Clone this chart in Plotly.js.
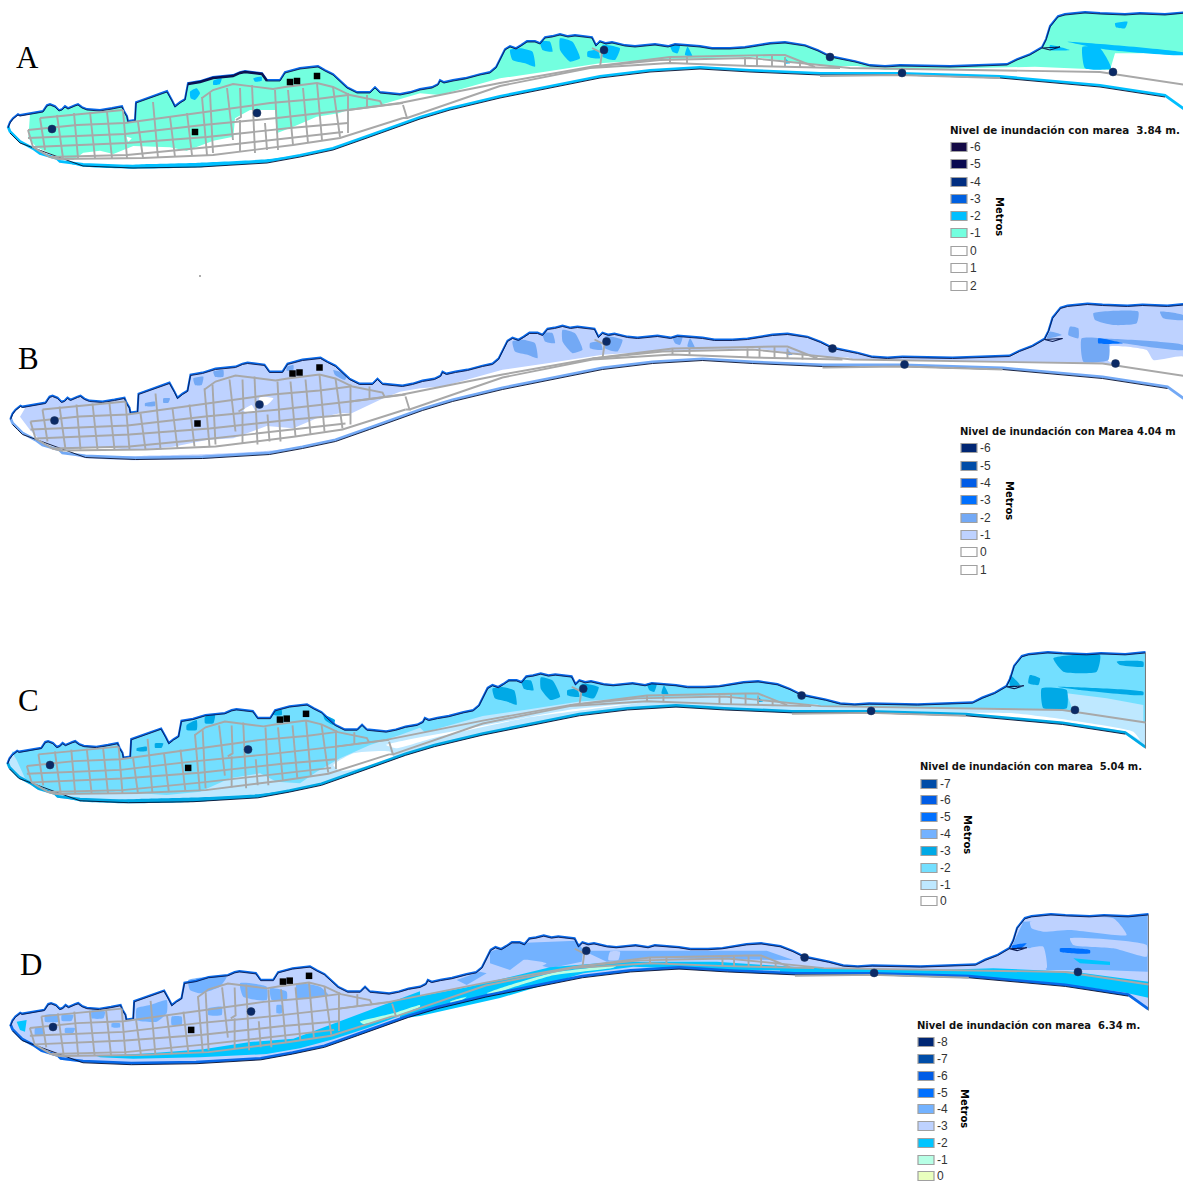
<!DOCTYPE html>
<html><head><meta charset="utf-8">
<script src="https://cdn.plot.ly/plotly-3.0.1.min.js"></script>
<style>html,body{margin:0;padding:0;background:#fff;overflow:hidden}#g{width:1183px;height:1183px}</style>
</head><body><div id="g"></div>
<script>
// ---------- shoreline, read in panel A pixels ----------
const northCoast=[[8,128],[10,123],[13,119],[18,115],[20,116],[30,114],[43,112],[47,106],[50,105],[55,107],[59,111],[62,110],[65,107],[68,109],[72,107],[75,106],[78,105],[82,108],[87,110],[100,111],[112,109],[122,107],[124,112],[127,117],[128,122],[135,121],[136,103],[150,98],[167,92],[172,101],[175,107],[180,103],[185,100],[188,84],[200,82],[213,78],[233,76],[240,73],[245,72],[262,74],[267,81],[280,81],[285,73],[300,69],[318,67],[325,71],[333,75],[347,88],[357,93],[370,93],[375,88],[380,93],[400,95],[410,93],[420,90],[432,88],[438,85],[440,81],[444,83],[453,81],[465,79],[480,75],[490,73],[496,68],[505,50],[510,47],[516,49],[521,46],[527,42],[535,42],[540,44],[545,38],[552,37],[560,35],[568,37],[575,36],[585,37],[592,38],[596,46],[600,42],[606,44],[612,43],[625,46],[635,47],[655,45],[668,47],[675,45],[690,46],[700,47],[712,49],[730,49],[745,48],[760,46],[770,44],[785,43],[805,46],[818,51],[830,57],[855,62],[870,66],[885,67],[900,66],[950,67],[1007,65],[1017,60],[1030,55],[1042,48],[1046,40],[1050,27],[1058,17],[1065,15],[1085,13],[1100,14],[1125,15],[1140,14],[1165,15],[1186,13]];
const southCoast=[[1186,112],[1165,97],[1100,87],[1000,78],[900,75],[820,75],[750,72],[700,69],[650,72],[600,78],[550,88],[500,98],[450,110],[420,119],[367,138],[333,150],[300,157],[267,163],[200,167],[133,168],[83,166],[60,163],[57,160],[40,155],[33,150],[20,143],[15,138],[10,133],[8,128]];
// ---------- streets ----------
const streets=[
[[40,118],[123,110]],
[[28,130],[77,125],[125,123],[170,117],[200,113],[270,103],[317,99],[348,95]],
[[28,138],[125,134],[203,125],[277,118],[348,110],[403,103]],
[[33,147],[127,143],[207,137],[290,128],[348,123]],
[[50,157],[127,155],[210,147],[293,138],[343,132]],
[[58,159],[143,158],[213,155],[293,145],[340,138],[403,118]],
[[28,130],[33,147],[50,157],[58,159]],
[[40,118],[45,150]],[[57,115],[63,158]],[[74,113],[78,158]],[[90,112],[95,158]],[[107,112],[112,158]],[[123,110],[127,158]],
[[138,122],[143,158]],[[153,102],[158,158]],[[170,117],[175,157]],[[187,113],[192,155]],[[202,97],[207,155]],[[210,93],[213,153]],
[[227,88],[233,140]],[[240,88],[241,117],[236,120]],[[240,120],[240,152]],[[252,85],[255,153]],[[265,123],[267,150]],[[275,90],[278,150]],
[[288,90],[293,145]],[[303,88],[308,143]],[[317,83],[322,140]],[[333,87],[340,137]],[[348,93],[348,133]],[[367,95],[367,107]],
[[202,98],[213,90],[233,84],[273,89],[285,87],[317,83],[333,87],[350,95],[380,101],[382,105]],
[[403,105],[407,118],[403,118]],
[[348,110],[400,103],[500,83],[590,67],[660,60],[750,58],[850,68],[1100,72],[1186,85]],
[[407,118],[500,86],[590,68],[670,63],[750,66],[840,68]],
[[590,67],[670,57],[772,55],[785,55],[815,67]],
[[745,57],[745,66]],[[757,56],[757,66]],[[772,55],[772,67]],[[785,57],[785,67]],[[670,57],[670,63]],[[687,57],[687,63]],[[800,62],[800,68]],[[592,48],[602,53],[600,67]],
[[820,76],[900,75],[1000,78]]
];
const gaugeDots=[[52,129],[257,113],[604,50],[830,57],[902,73],[1113,72]];
const buildings=[[195,132],[290,82],[297,81],[317,76]];
// ---------- crop frames used to read the flood zones: [left, top, x-zoom, y-zoom] ----------
const A1=[0,60,3,3],A2=[400,10,2,3],B1=[0,350,3,3],C1=[0,695,3,3],D1=[0,950,3,3],B3=[780,295,3,3],C3=[780,645,3,3],D3=[780,905,3,3],D2=[400,930,3,3];
// ---------- flood zone edges ----------
const cityEdgeA=[[85,235],[110,262],[160,285],[220,300],[250,278],[300,272],[340,282],[400,258],[510,262],[560,272],[640,242],[700,230],[705,175],[750,150],[825,150],[830,220],[880,200],[950,170],[1015,160],[1045,150],[1140,135],[1260,100]];
const midEdgeA=[[80,255],[200,205],[290,185],[400,160],[500,150],[700,140],[860,168]];
const headEdgeA=[[1568,130],[1430,130],[1420,180],[1340,175],[1270,170],[1215,172]];
const cityEdgeB=[[75,175],[60,200],[90,240],[130,280],[200,300],[290,290],[400,300],[520,290],[620,270],[700,265],[800,228],[880,235],[950,205],[1020,190],[1055,190],[1150,145],[1200,125],[1260,115]];
const cityEdgeC=[[35,170],[50,195],[75,250],[130,285],[240,298],[350,290],[500,300],[600,290],[690,250],[780,235],[830,260],[900,265],[950,230],[1020,190],[1110,150],[1200,120],[1260,98]];
// ---------- patches ----------
const midPatches=[[[220,120],[240,115],[265,125],[270,170],[250,160],[225,150]],[[280,95],[300,95],[305,125],[285,120]],[[320,85],[345,95],[360,145],[340,155],[320,120]],[[375,125],[395,120],[400,145],[375,140]],[[405,105],[440,115],[430,150],[405,140]],[[540,105],[560,105],[555,130],[545,125]],[[575,110],[585,140],[570,135]],[[770,145],[780,160],[768,160]]];
const aCityBlue=[[[570,95],[590,85],[600,100],[585,120],[572,115]],[[640,62],[665,55],[660,72],[640,75]],[[760,55],[785,50],[785,62],[765,65]]];
const aHeadBlue=[[[1365,110],[1400,115],[1422,175],[1370,175]],[[1335,95],[1568,128],[1568,135],[1420,120]],[[1430,40],[1455,35],[1450,55],[1432,52]],[[1300,105],[1340,120],[1300,120]]];
const crescentWest=[[[215,312],[330,316],[450,312],[600,308],[800,298],[900,286],[800,305],[600,322],[400,326],[250,320]]];
const aWhite=[[[730,240],[745,240],[745,248],[730,248]],[[1020,165],[1032,165],[1032,188],[1020,188]],[[380,230],[395,235],[385,245]],[[1280,130],[1300,130],[1298,150],[1282,150]]];
const bCity=[[[580,85],[610,80],[605,105],[585,105]],[[640,65],[670,60],[670,80],[645,80]],[[435,160],[465,155],[465,168],[435,168]],[[490,145],[510,145],[505,158],[490,158]],[[860,50],[880,45],[880,60],[860,62]],[[1000,60],[1040,75],[1035,90],[1005,75]]];
const bHead=[[[940,55],[1075,50],[1070,85],[1000,90],[945,75]],[[905,130],[985,135],[985,195],[910,200]],[[810,110],[845,120],[800,130]],[[870,95],[895,100],[895,130],[865,120]],[[950,130],[1209,150],[1209,165],[1030,145]],[[1140,50],[1209,60],[1209,75],[1150,70]]];
const bHeadDeep=[[[955,130],[1030,145],[955,145]]];
const bHeadWhite=[[[985,155],[1100,165],[1120,195],[1209,185],[1209,240],[985,198]]];
const bWhite=[[[730,180],[755,165],[765,185],[740,190]],[[780,140],[820,145],[800,165],[775,165]]];
const cCity=[[[560,90],[590,75],[590,105],[560,105]],[[615,65],[645,60],[640,85],[615,85]],[[410,160],[440,155],[440,168],[410,168]],[[465,145],[490,145],[485,158],[465,158]],[[820,50],[845,45],[845,60],[820,60]],[[970,60],[1005,75],[1000,90],[975,75]]];
const cHead=[[[820,40],[960,30],[950,80],[850,80]],[[785,130],[860,135],[860,190],[790,190]],[[830,125],[1090,140],[1090,150],[900,135]],[[690,90],[720,120],[690,122]],[[750,90],[780,100],[775,120],[745,115]],[[1010,50],[1090,50],[1090,65],[1020,60]]];
const cHeadLight=[[[860,145],[980,160],[1090,180],[1090,232],[880,200]]];
const cWhite=[[[430,205],[700,205],[900,230],[1060,260],[1080,285],[1040,262],[880,235],[640,215]],[[950,190],[1000,180],[1040,205],[960,200]]];
const cCityWhite=[[[1000,210],[1060,175],[1170,170],[1180,190],[1020,228]]];
const cMidWhite=[[[0,295],[200,235],[380,185],[520,165],[300,208],[100,272],[20,305]]];
const dCity=[[[135,195],[175,195],[175,215],[135,215]],[[105,235],[130,235],[130,255],[105,255]],[[185,195],[220,195],[215,212],[185,212]],[[275,180],[315,185],[310,205],[275,205]],[[335,220],[360,220],[360,232],[335,232]],[[410,175],[450,165],[500,150],[500,190],[470,215],[410,210]],[[515,200],[545,200],[545,225],[515,225]],[[625,175],[665,170],[665,195],[625,195]],[[720,100],[800,110],[800,150],[730,140]],[[810,115],[860,125],[860,150],[815,150]],[[890,100],[960,110],[985,135],[930,145],[890,145]],[[565,90],[680,80],[660,110],[600,130],[570,120]],[[195,235],[225,235],[220,248],[195,248]],[[830,165],[845,165],[845,190],[830,190]]];
const dMid=[[[270,65],[340,40],[530,32],[550,60],[545,95],[450,115],[370,90],[330,120],[270,100]],[[550,62],[1100,62],[1180,90],[750,85],[620,95]],[[170,150],[240,125],[260,130],[200,165]]];
const dMidLight=[[[630,65],[660,65],[655,90],[625,90]],[[370,90],[440,100],[400,118],[365,110]]];
const dHead=[[[730,50],[1103,30],[1103,200],[960,195],[800,195],[750,130],[695,125]]];
const dHeadLight=[[[750,50],[1000,40],[1040,90],[870,75],[790,80],[755,70]],[[870,100],[1100,120],[1100,155],[1000,130],[880,120]],[[750,130],[790,125],[800,190],[760,190]]];
const dHeadDeep=[[[840,130],[930,135],[930,145],[840,140]],[[695,122],[740,115],[720,132],[695,130]]];
const dHeadCyan=[[[880,160],[990,170],[990,180],[900,175]]];
const dBandWest=[[[50,215],[80,210],[75,245],[60,240]],[[290,318],[450,310],[610,298],[750,276],[880,266],[1020,214],[1100,184],[1260,124],[1260,175],[1100,235],[1000,268],[900,295],[800,312],[600,322],[400,326],[300,322]]];
const dBandMid=[[[0,210],[200,172],[450,112],[650,95],[950,95],[1200,112],[1200,122],[900,118],[700,110],[550,130],[300,204],[60,258],[0,266]]];
const dBandEast=[[[0,186],[440,196],[640,190],[880,200],[1105,230],[1105,278],[1030,262],[800,232],[560,212],[0,205]]];
const dMint=[[[1080,215],[1180,190],[1260,165],[1260,170],[1180,200],[1090,222]]];
const dMintMid=[[[260,190],[330,165],[460,128],[650,107],[640,113],[460,136],[340,172],[270,193]],[[150,215],[200,200],[190,208],[155,222]]];
// ---------- legends ----------
const legA={title:'Nivel de inundación con marea  3.84 m.',labels:['-6','-5','-4','-3','-2','-1','0','1','2'],colors:['#140A46','#0A0A50','#002D80','#0060E0','#00BFFF','#73FFDF','#FFFFFF','#FFFFFF','#FFFFFF'],rows:[147,164,182,199,216,233,251,268,286]};
const legB={title:'Nivel de inundación con Marea 4.04 m',labels:['-6','-5','-4','-3','-2','-1','0','1'],colors:['#002673','#004DA8','#005CE6','#0070FF','#73A9F5','#BED2FF','#FFFFFF','#FFFFFF'],rows:[448,466,483,500,518,535,552,570]};
const legC={title:'Nivel de inundación con marea  5.04 m.',labels:['-7','-6','-5','-4','-3','-2','-1','0'],colors:['#004DA8','#005CE6','#0070FF','#73B2FF','#00A9E6','#73DFFF','#BEE8FF','#FFFFFF'],rows:[784,800,817,834,851,868,885,901]};
const legD={title:'Nivel de inundación con marea  6.34 m.',labels:['-8','-7','-6','-5','-4','-3','-2','-1','0'],colors:['#002673','#004DA8','#005CE6','#0070FF','#73B2FF','#BED2FF','#00C5FF','#B7FFE5','#E9FFBE'],rows:[1042,1059,1076,1093,1109,1126,1143,1160,1176]};

// ---------- placement of each panel relative to panel A ----------
const frames={A:[0,0,1],B:[2.5,291.5,1],C:[-0.2,640.4,0.966],D:[2.8,902.4,0.966]};
const fromCrop=(c,p)=>p.map(q=>[c[0]+q[0]/c[2],c[1]+q[1]/c[3]]);
const place=(f,p)=>p.map(q=>[f[0]+f[2]*q[0],f[1]+f[2]*q[1]]);
const traces=[];
function fillPolys(polys,color,smooth){
  const x=[],y=[];polys.forEach(p=>{p.forEach(q=>{x.push(q[0]);y.push(q[1])});x.push(p[0][0],null);y.push(p[0][1],null)});
  const line=smooth?{width:0,color,shape:'spline',smoothing:0.5}:{width:0,color};
  traces.push({type:'scatter',mode:'lines',x,y,fill:'toself',fillcolor:color,line,hoverinfo:'skip',showlegend:false});
}
function stroke(p,color,width){
  traces.push({type:'scatter',mode:'lines',x:p.map(q=>q[0]),y:p.map(q=>q[1]),line:{color,width},hoverinfo:'skip',showlegend:false});
}
const cropPolys=(c,list)=>list.map(p=>fromCrop(c,p));
const northFrom=m=>northCoast.filter(q=>q[0]>=m);
const eastRoad=[[1186,85],[1100,72],[850,68]];

function commonMarks(f,stripColor,darkSpan,dark){
  stroke(place(f,southCoast.map(q=>[q[0],q[1]-1.6])),stripColor,2.8);
  stroke(place(f,southCoast.slice(1,-1).filter(q=>q[0]<1170&&q[0]>60||q[0]<30)),'#061030',0.9);
  stroke(place(f,northCoast.map(q=>[q[0],q[1]-0.9])),'#0868E8',2);
  if(darkSpan) stroke(place(f,darkSpan),dark,2.4);
  stroke(place(f,northCoast),'#0A1A50',0.9);
  stroke(place(f,[[1042,48],[1060,47],[1050,50],[1042,48]]),'#0A1A50',1.2);
  if(f[2]<1) stroke(place(f,[[1186,13],[1186,112]]),'#777',1);
  streets.forEach(s=>stroke(place(f,s),'#A8A8A8',1.9));
  const dots=place(f,gaugeDots),sq=place(f,buildings);
  traces.push({type:'scatter',mode:'markers',x:dots.map(q=>q[0]),y:dots.map(q=>q[1]),marker:{symbol:'circle',size:8,color:'#0B2A66',line:{color:'#23375a',width:.5}},hoverinfo:'skip',showlegend:false});
  traces.push({type:'scatter',mode:'markers',x:sq.map(q=>q[0]),y:sq.map(q=>q[1]),marker:{symbol:'square',size:6.5,color:'#000'},hoverinfo:'skip',showlegend:false});
}

// Panel A
{const f=frames.A;
 const mid=fromCrop(A2,midEdgeA),city=fromCrop(A1,cityEdgeA);
 fillPolys([northFrom(24).filter(q=>q[0]<=900).concat(mid.slice().reverse(),city.slice().reverse())],'#73FFDF');
 fillPolys([northFrom(830).concat(fromCrop(A2,headEdgeA),[[885,70],[830,62]])],'#73FFDF');
 fillPolys(cropPolys(A1,aWhite),'#FFFFFF',true);
 fillPolys(cropPolys(A2,midPatches).concat(cropPolys(A2,aHeadBlue),cropPolys(A1,aCityBlue),cropPolys(A1,crescentWest)),'#00BFFF',true);
 commonMarks(f,'#00BFFF',northCoast.filter(q=>q[0]>=186&&q[0]<=268),'#0A0A50');
}
// Panel B
{const f=frames.B;
 const city=fromCrop(B1,cityEdgeB).map(q=>[q[0]-f[0],q[1]-f[1]]);
 const mid=fromCrop(A2,midEdgeA);
 fillPolys([place(f,northFrom(18).filter(q=>q[0]<=900).concat(mid.slice().reverse(),city.slice().reverse()))],'#BED2FF');
 fillPolys([place(f,northFrom(830).concat(eastRoad))],'#BED2FF');
 fillPolys(cropPolys(B1,bWhite),'#FFFFFF',true);
 fillPolys(cropPolys(B3,bHeadWhite),'#FFFFFF',true);
 fillPolys([place(f,fromCrop(A1,crescentWest[0]))],'#BED2FF',true);
 fillPolys(cropPolys(B3,bHead).concat(cropPolys(B1,bCity),cropPolys(A2,midPatches).map(p=>place(f,p))),'#73A9F5',true);
 fillPolys(cropPolys(B3,bHeadDeep),'#0070FF',true);
 commonMarks(f,'#73A9F5');
}
// Panel C
{const f=frames.C;
 fillPolys([place(f,northCoast.concat(southCoast))],'#BEE8FF');
 const city=fromCrop(C1,cityEdgeC).map(q=>[(q[0]-f[0])/f[2],(q[1]-f[1])/f[2]]);
 const mid=fromCrop(A2,midEdgeA);
 fillPolys(cropPolys(C1,cCityWhite),'#FFFFFF',true);
 fillPolys(cropPolys(A2,cMidWhite).map(p=>place(f,p)),'#FFFFFF',true);
 fillPolys(cropPolys(C3,cWhite),'#FFFFFF',true);
 fillPolys([place(f,northFrom(18).filter(q=>q[0]<=900).concat(mid.slice().reverse(),city.slice().reverse()))],'#73DFFF');
 fillPolys([place(f,northFrom(830).concat(eastRoad))],'#73DFFF');
 fillPolys(cropPolys(C3,cHeadLight),'#BEE8FF');
 fillPolys(cropPolys(C3,cHead).concat(cropPolys(C1,cCity),cropPolys(A2,midPatches).map(p=>place(f,p)),[place(f,fromCrop(A1,crescentWest[0]))]),'#00A9E6',true);
 commonMarks(f,'#00A9E6');
}
// Panel D
{const f=frames.D;
 fillPolys([place(f,northCoast.concat(southCoast))],'#BED2FF');
 fillPolys(cropPolys(D2,dMid).concat(cropPolys(D3,dHead)),'#73B2FF');
 fillPolys(cropPolys(D1,dCity),'#73B2FF',true);
 fillPolys(cropPolys(D2,dMidLight).concat(cropPolys(D3,dHeadLight)),'#BED2FF',true);
 fillPolys(cropPolys(D3,dHeadDeep),'#0070FF',true);
 fillPolys(cropPolys(D3,dHeadCyan).concat(cropPolys(D1,dBandWest),cropPolys(D2,dBandMid),cropPolys(D3,dBandEast)),'#00C5FF');
 fillPolys(cropPolys(D1,dMint).concat(cropPolys(D2,dMintMid)),'#B7FFE5',true);
 commonMarks(f,'#0868E8');
}
traces.push({type:'scatter',mode:'markers',x:[200],y:[276],marker:{size:1.5,color:'#333'},hoverinfo:'skip',showlegend:false});

// ---------- legends and letters ----------
const shapes=[],annotations=[];
function addLegend(L,x,titleY,metrosX,metrosY,size){
  annotations.push({text:'<b>'+L.title+'</b>',x:x-2,y:titleY,xref:'x',yref:'y',xanchor:'left',yanchor:'middle',showarrow:false,font:{family:'DejaVu Sans',size,color:'#111'}});
  L.rows.forEach((r,i)=>{
    shapes.push({type:'rect',xref:'x',yref:'y',x0:x+1,x1:x+17,y0:r-4.5,y1:r+4.5,fillcolor:L.colors[i],line:{color:'#A0A0A0',width:1.2}});
    annotations.push({text:L.labels[i],x:x+17.5,y:r,xref:'x',yref:'y',xanchor:'left',yanchor:'middle',showarrow:false,font:{family:'Liberation Sans',size:12,color:'#333'}});
  });
  annotations.push({text:'<b>Metros</b>',x:metrosX,y:metrosY,xref:'x',yref:'y',textangle:90,showarrow:false,font:{family:'DejaVu Sans',size:10,color:'#000'}});
}
addLegend(legA,950,130,1000,216,10.3);
addLegend(legB,960,431,1010,500,10);
addLegend(legC,920,766,968,834,9.95);
addLegend(legD,917,1025,965,1108,10);
[['A',14,57],['B',16,358],['C',16,700],['D',18,964]].forEach(l=>annotations.push({text:l[0],x:l[1],y:l[2],xref:'x',yref:'y',xanchor:'left',yanchor:'middle',showarrow:false,font:{family:'Liberation Serif',size:31,color:'#000'}}));

const blank={visible:false,showgrid:false,zeroline:false,fixedrange:true};
Plotly.newPlot('g',traces,{width:1183,height:1183,margin:{l:0,r:0,t:0,b:0},paper_bgcolor:'#fff',plot_bgcolor:'#fff',showlegend:false,
 xaxis:Object.assign({range:[0,1183]},blank),yaxis:Object.assign({range:[1183,0]},blank),shapes,annotations},{staticPlot:true,displayModeBar:false});
</script></body></html>
